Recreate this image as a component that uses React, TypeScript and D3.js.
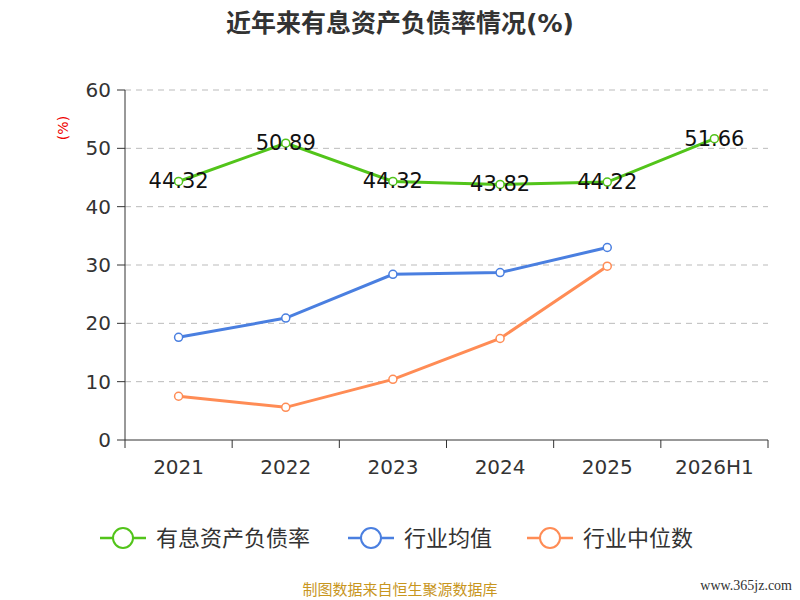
import * as d3 from 'd3';

const categories = ['2021', '2022', '2023', '2024', '2025', '2026H1'];
const debtRatio = [44.32, 50.89, 44.32, 43.82, 44.22, 51.66];
const industryAvg = [17.6, 20.9, 28.4, 28.7, 33.0];
const industryMedian = [7.5, 5.6, 10.4, 17.4, 29.8];
const yTicks = [0, 10, 20, 30, 40, 50, 60];

const font = '"DejaVu Sans", "Noto Sans CJK SC", sans-serif';

export default function App() {
  const left = 125, right = 768, top = 90, bottom = 440;
  const x = d3.scaleBand<string>().domain(categories).range([left, right]);
  const cx = (i: number) => x(categories[i])! + x.bandwidth() / 2;
  const y = d3.scaleLinear().domain([0, 60]).range([bottom, top]);
  const line = d3.line<number>().x((_, i) => cx(i)).y((d) => y(d));

  const series = [
    { name: '有息资产负债率', data: debtRatio, color: '#52c41a', labels: true },
    { name: '行业均值', data: industryAvg, color: '#4a7fe0', labels: false },
    { name: '行业中位数', data: industryMedian, color: '#ff8c55', labels: false },
  ];
  const legendX = [100, 348, 527];

  return (
    <svg width={800} height={600} style={{ position: 'absolute', left: 0, top: 0, fontFamily: font }}>
      <rect width={800} height={600} fill="#fff" />
      <text x={400} y={32} textAnchor="middle" fontSize={25} fontWeight="bold" fill="#333">
        近年来有息资产负债率情况(%)
      </text>
      <text x={68} y={128} fontSize={14} fill="#e00" textAnchor="middle" transform="rotate(-90 68 128)">(%)</text>
      {yTicks.map((t) => (
        <g key={t}>
          {t > 0 && (
            <line x1={left} x2={right} y1={y(t)} y2={y(t)} stroke="#bbb" strokeDasharray="6,5" />
          )}
          <line x1={left - 8} x2={left} y1={y(t)} y2={y(t)} stroke="#333" />
          <text x={left - 14} y={y(t) + 7} textAnchor="end" fontSize={20} fill="#333">{t}</text>
        </g>
      ))}
      <line x1={left} x2={left} y1={top} y2={bottom} stroke="#333" />
      <line x1={left} x2={right} y1={bottom} y2={bottom} stroke="#333" />
      {categories.map((c, i) => (
        <g key={c}>
          <line x1={x(c)!} x2={x(c)!} y1={bottom} y2={bottom + 8} stroke="#333" />
          <text x={cx(i)} y={474} textAnchor="middle" fontSize={20} fill="#333">{c}</text>
        </g>
      ))}
      <line x1={right} x2={right} y1={bottom} y2={bottom + 8} stroke="#333" />
      {series.map((s) => (
        <g key={s.name}>
          <path d={line(s.data)!} fill="none" stroke={s.color} strokeWidth={3} />
          {s.data.map((d, i) => (
            <circle key={i} cx={cx(i)} cy={y(d)} r={4} fill="#fff" stroke={s.color} strokeWidth={1.5} />
          ))}
          {s.labels && s.data.map((d, i) => (
            <text key={'l' + i} x={cx(i)} y={y(d) + 7} textAnchor="middle" fontSize={21} fill="#111">
              {d.toFixed(2)}
            </text>
          ))}
        </g>
      ))}
      {series.map((s, i) => (
        <g key={'lg' + s.name} transform={`translate(${legendX[i]},538)`}>
          <line x1={0} x2={46} y1={0} y2={0} stroke={s.color} strokeWidth={2.5} />
          <circle cx={23} cy={0} r={10} fill="#fff" stroke={s.color} strokeWidth={2} />
          <text x={56} y={8} fontSize={22} fill="#333">{s.name}</text>
        </g>
      ))}
      <text x={400} y={595} textAnchor="middle" fontSize={15} fill="#c8961e">制图数据来自恒生聚源数据库</text>
      <text x={792} y={590} textAnchor="end" fontSize={14} fill="#333" fontFamily="Liberation Serif">www.365jz.com</text>
    </svg>
  );
}
